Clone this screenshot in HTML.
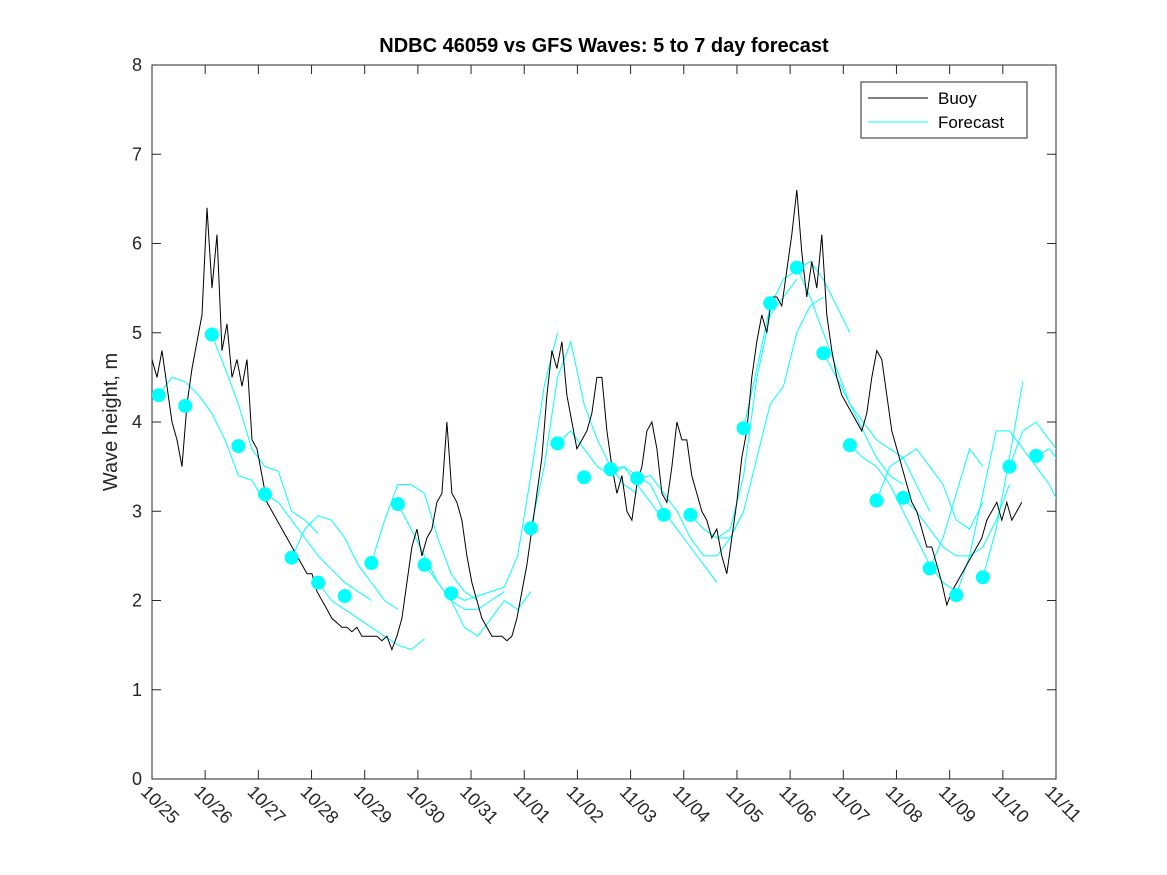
<!DOCTYPE html>
<html><head><meta charset="utf-8"><style>
body{margin:0;background:#fff;}
svg{display:block;font-family:"Liberation Sans","DejaVu Sans",sans-serif;}
</style></head><body>
<svg id="chart" width="1167" height="875" xmlns="http://www.w3.org/2000/svg">
<defs><clipPath id="plotclip"><rect x="152" y="65" width="904" height="714"/></clipPath></defs>
<rect x="0" y="0" width="1167" height="875" fill="#fff"/>
<text x="604" y="52" text-anchor="middle" font-size="20" font-weight="bold" fill="#000">NDBC 46059 vs GFS Waves: 5 to 7 day forecast</text>
<text transform="translate(117,422) rotate(-90)" text-anchor="middle" font-size="20" fill="#262626">Wave height, m</text>
<g id="axes"></g>
<g id="marks" clip-path="url(#plotclip)"></g>
<g>
<rect x="861" y="82" width="166" height="56" fill="#fff" stroke="#262626" stroke-width="1"/>
<line x1="868" y1="98" x2="928" y2="98" stroke="#000" stroke-width="1"/>
<text x="938" y="104" font-size="17" fill="#000">Buoy</text>
<line x1="868" y1="122" x2="928" y2="122" stroke="#00ffff" stroke-width="1"/>
<text x="938" y="128" font-size="17" fill="#000">Forecast</text>
</g>
</svg>
<script>
const xTickLabels=["10/25","10/26","10/27","10/28","10/29","10/30","10/31","11/01","11/02","11/03","11/04","11/05","11/06","11/07","11/08","11/09","11/10","11/11"];
const yTicks=[0,1,2,3,4,5,6,7,8];
const buoyStart=0, buoyStep=0.094;
const buoyH=[4.7,4.5,4.8,4.4,4.0,3.8,3.5,4.2,4.6,4.9,5.2,6.4,5.5,6.1,4.8,5.1,4.5,4.7,4.4,4.7,3.8,3.7,3.4,3.1,3.0,2.9,2.8,2.7,2.6,2.5,2.4,2.3,2.3,2.1,2.0,1.9,1.8,1.75,1.7,1.7,1.65,1.7,1.6,1.6,1.6,1.6,1.55,1.6,1.45,1.6,1.8,2.2,2.6,2.8,2.5,2.7,2.8,3.1,3.2,4.0,3.2,3.1,2.9,2.5,2.2,2.0,1.8,1.7,1.6,1.6,1.6,1.55,1.6,1.8,2.1,2.4,2.8,3.2,3.6,4.3,4.8,4.6,4.9,4.3,4.0,3.7,3.8,3.9,4.1,4.5,4.5,3.9,3.5,3.2,3.4,3.0,2.9,3.3,3.5,3.9,4.0,3.7,3.2,3.1,3.5,4.0,3.8,3.8,3.4,3.2,3.0,2.9,2.7,2.8,2.5,2.3,2.7,3.1,3.6,3.9,4.5,4.9,5.2,5.0,5.4,5.4,5.3,5.7,6.1,6.6,5.9,5.4,5.8,5.5,6.1,5.2,4.8,4.5,4.3,4.2,4.1,4.0,3.9,4.1,4.5,4.8,4.7,4.3,3.9,3.7,3.5,3.3,3.1,3.0,2.8,2.6,2.6,2.4,2.2,1.95,2.1,2.2,2.3,2.4,2.5,2.6,2.7,2.9,3.0,3.1,2.9,3.1,2.9,3.0,3.1];
const dotDays=[0.125,0.625,1.125,1.625,2.125,2.625,3.125,3.625,4.125,4.625,5.125,5.625,7.125,7.625,8.125,8.625,9.125,9.625,10.125,11.125,11.625,12.125,12.625,13.125,13.625,14.125,14.625,15.125,15.625,16.125,16.625];
const dotH=[4.3,4.18,4.98,3.73,3.19,2.48,2.2,2.05,2.42,3.08,2.4,2.08,2.81,3.76,3.38,3.47,3.37,2.96,2.96,3.93,5.33,5.73,4.77,3.74,3.12,3.15,2.36,2.06,2.26,3.5,3.62];
const fcStep=0.25;
const fcStarts=[0.125,1.125,2.125,2.625,3.125,4.125,4.625,5.125,5.625,7.125,7.625,8.625,9.125,10.125,10.625,11.125,12.125,12.625,13.125,13.625,14.125,14.625,15.125,15.625,16.125,16.625];
const fcValues=[
[4.3,4.5,4.45,4.3,4.1,3.8,3.4,3.35,3.1],
[4.98,4.6,4.2,3.7,3.5,3.45,3.0,2.9,2.75],
[3.19,3.1,2.9,2.7,2.5,2.35,2.2,2.1,2.0],
[2.48,2.8,2.95,2.9,2.7,2.4,2.2,2.0,1.9],
[2.2,2.0,1.9,1.8,1.7,1.6,1.5,1.45,1.57],
[2.42,2.9,3.3,3.3,3.2,2.7,2.3,2.1,2.0],
[3.08,2.8,2.5,2.2,2.0,1.9,1.9,2.0,2.1],
[2.4,2.2,2.0,1.7,1.6,1.8,2.0,1.9,2.1],
[2.08,2.0,2.05,2.1,2.15,2.5,3.4,4.4,5.0],
[2.81,3.5,4.5,4.9,4.2,3.8,3.5,3.3,3.2],
[3.76,3.9,3.7,3.5,3.4,3.5,3.3,3.1,2.9],
[3.47,3.5,3.4,3.3,3.0,2.8,2.6,2.4,2.2],
[3.37,3.4,3.2,3.0,2.7,2.5,2.5,2.7,3.0],
[2.96,2.8,2.7,2.8,3.4,4.5,5.2,5.4,5.6],
[2.7,2.7,3.0,3.6,4.2,4.4,5.0,5.3,5.4],
[3.93,4.6,5.3,5.6,5.7,5.8,5.6,5.3,5.0],
[5.73,5.4,5.0,4.6,4.2,3.9,3.6,3.4,3.3],
[4.77,4.5,4.2,4.0,3.8,3.7,3.6,3.3,3.0],
[3.74,3.6,3.5,3.3,3.0,2.7,2.4,2.2,2.1],
[3.12,3.5,3.6,3.7,3.5,3.3,2.9,2.8,3.1],
[3.15,3.0,2.8,2.6,2.5,2.5,2.6,2.9,3.3],
[2.36,2.7,3.2,3.7,3.5],
[2.06,2.5,3.2,3.9,3.9,3.7,3.5,3.3,3.0],
[2.26,2.8,3.6,4.45],
[3.5,3.9,4.0,3.8,3.6,3.3],
[3.62,3.7,3.5,3.3,3.0,2.75]
];
const NS="http://www.w3.org/2000/svg";
const X0=152,X1=1056,Y0=779,Y1=65,XMAX=17,YMAX=8;
function sx(d){return X0+(X1-X0)*d/XMAX;}
function sy(v){return Y0-(Y0-Y1)*v/YMAX;}
function mk(tag,attrs,parent){const e=document.createElementNS(NS,tag);for(const k in attrs)e.setAttribute(k,attrs[k]);parent.appendChild(e);return e;}
const axes=document.getElementById('axes'), marks=document.getElementById('marks');
const frame=mk('rect',{x:X0,y:Y1,width:X1-X0,height:Y0-Y1,fill:'none',stroke:'#262626','stroke-width':1},axes);


yTicks.forEach(v=>{
  const y=sy(v);
  mk('line',{x1:X0,y1:y,x2:X0+9,y2:y,stroke:'#262626'},axes);
  mk('line',{x1:X1,y1:y,x2:X1-9,y2:y,stroke:'#262626'},axes);
  const t=mk('text',{x:X0-10,y:y+6,'text-anchor':'end','font-size':18,fill:'#262626'},axes);
  t.textContent=v;
  
  
});
xTickLabels.forEach((lab,i)=>{
  const x=sx(i);
  mk('line',{x1:x,y1:Y0,x2:x,y2:Y0-9,stroke:'#262626'},axes);
  mk('line',{x1:x,y1:Y1,x2:x,y2:Y1+9,stroke:'#262626'},axes);
  const t=mk('text',{transform:`translate(${x-12},${Y0+14}) rotate(45)`,'font-size':18,fill:'#262626'},axes);
  t.textContent=lab;
  
  
});
fcValues.forEach((vals,i)=>{
  const pts=vals.map((v,j)=>sx(fcStarts[i]+j*fcStep).toFixed(1)+','+sy(v).toFixed(1)).join(' ');
  const p=mk('polyline',{points:pts,fill:'none',stroke:'#00ffff','stroke-width':1},marks);
  
  
});
const bp=buoyH.map((v,j)=>sx(buoyStart+j*buoyStep).toFixed(1)+','+sy(v).toFixed(1)).join(' ');
const bl=mk('polyline',{points:bp,fill:'none',stroke:'#000','stroke-width':1},marks);


dotDays.forEach((d,i)=>{
  const c=mk('circle',{cx:sx(d),cy:sy(dotH[i]),r:7,fill:'#00ffff'},marks);
  
  
});
</script>
</body></html>
